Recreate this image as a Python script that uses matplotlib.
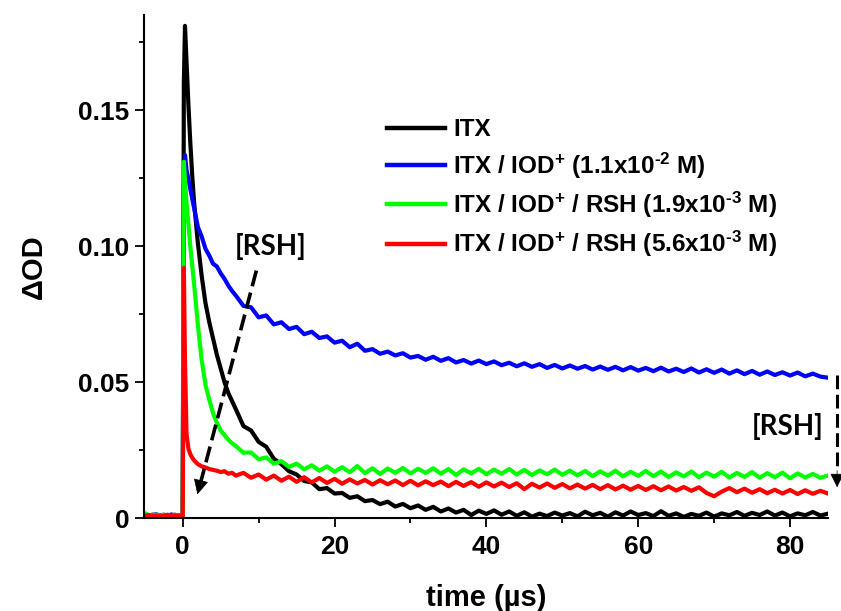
import matplotlib
matplotlib.use("Agg")
import matplotlib.pyplot as plt
from matplotlib.ticker import FixedLocator

plt.rcParams['font.family'] = ['Liberation Sans', 'DejaVu Sans']
plt.rcParams['font.weight'] = 'bold'
plt.rcParams['mathtext.fontset'] = 'custom'
plt.rcParams['mathtext.rm'] = 'Liberation Sans:bold'
plt.rcParams['mathtext.bf'] = 'Liberation Sans:bold'
plt.rcParams['mathtext.it'] = 'Liberation Sans:bold'

# ---------------- data ----------------
time_us = [-5.0, -4.5, -4.0, -3.5, -3.0, -2.5, -2.0, -1.5, -1.0, -0.5,
           0.0, 0.15, 0.3, 0.5, 0.75, 1.0, 1.25, 1.5,
           2.0, 2.5, 3.0, 3.5, 4.0, 4.5, 5.0, 5.5, 6.0, 6.5,
           7, 8, 9, 10, 11, 12, 13, 14, 15, 16, 17, 18, 19, 20,
           21, 22, 23, 24, 25, 26, 27, 28, 29, 30, 31, 32, 33, 34, 35,
           36, 37, 38, 39, 40, 41, 42, 43, 44, 45, 46, 47, 48, 49, 50,
           51, 52, 53, 54, 55, 56, 57, 58, 59, 60, 61, 62, 63, 64, 65,
           66, 67, 68, 69, 70, 71, 72, 73, 74, 75, 76, 77, 78, 79, 80,
           81, 82, 83, 84, 85]

od_itx = [0.0010, 0.0007, 0.0012, 0.0008, 0.0011, 0.0006, 0.0010, 0.0008, 0.0012, 0.0007,
          0.0009, 0.160, 0.181, 0.168, 0.152, 0.138, 0.126, 0.116,
          0.101, 0.089, 0.079, 0.072, 0.066, 0.060, 0.055, 0.050, 0.046, 0.043,
          0.0400, 0.0338, 0.0322, 0.0280, 0.0262, 0.0218, 0.0198, 0.0172, 0.0160, 0.0136,
          0.0131, 0.0106, 0.0110, 0.0090,
          0.0092, 0.0074, 0.0080, 0.0062, 0.0066, 0.0051, 0.0060, 0.0042, 0.0052, 0.0036,
          0.0046, 0.0030, 0.0041, 0.0024, 0.0035,
          0.0020, 0.0030, 0.0011, 0.0027, 0.0015, 0.0028, 0.0012, 0.0024, 0.0008, 0.0021,
          0.0005, 0.0016, 0.0007, 0.0020, 0.0009,
          0.0018, 0.0006, 0.0023, 0.0010, 0.0019, 0.0005, 0.0021, 0.0009, 0.0024, 0.0011,
          0.0018, 0.0007, 0.0025, 0.0008, 0.0017,
          0.0004, 0.0015, 0.0008, 0.0020, 0.0005, 0.0017, 0.0010, 0.0022, 0.0008, 0.0019,
          0.0011, 0.0024, 0.0009, 0.0020, 0.0006,
          0.0017, 0.0010, 0.0022, 0.0009, 0.0016]

od_iod = [0.0012, 0.0008, 0.0011, 0.0014, 0.0009, 0.0012, 0.0008, 0.0013, 0.0010, 0.0011,
          0.0010, 0.122, 0.1335, 0.128, 0.1245, 0.121, 0.1175, 0.114,
          0.107, 0.1035, 0.099, 0.0965, 0.0935, 0.0925, 0.0900, 0.0880, 0.0855, 0.0835,
          0.0818, 0.0780, 0.0775, 0.0738, 0.0745, 0.0712, 0.0720, 0.0695, 0.0703, 0.0676,
          0.0685, 0.0662, 0.0668, 0.0645,
          0.0652, 0.0628, 0.0641, 0.0615, 0.0621, 0.0604, 0.0612, 0.0598, 0.0606, 0.0590,
          0.0596, 0.0582, 0.0593, 0.0578, 0.0588,
          0.0572, 0.0581, 0.0568, 0.0579, 0.0566, 0.0576, 0.0562, 0.0571, 0.0558, 0.0569,
          0.0556, 0.0566, 0.0552, 0.0563, 0.0550,
          0.0561, 0.0549, 0.0559, 0.0546, 0.0557, 0.0545, 0.0556, 0.0543, 0.0555, 0.0542,
          0.0552, 0.0540, 0.0553, 0.0539, 0.0549,
          0.0537, 0.0550, 0.0535, 0.0547, 0.0534, 0.0546, 0.0531, 0.0543, 0.0529, 0.0541,
          0.0527, 0.0539, 0.0526, 0.0536, 0.0524,
          0.0535, 0.0521, 0.0531, 0.0520, 0.0516]

od_rsh_low = [0.0018, 0.0011, 0.0009, 0.0013, 0.0008, 0.0012, 0.0010, 0.0007, 0.0011, 0.0009,
              0.0010, 0.131, 0.124, 0.116, 0.108, 0.100, 0.093, 0.086,
              0.071, 0.058, 0.049, 0.0435, 0.0385, 0.0350, 0.0322, 0.0305, 0.0288, 0.0275,
              0.0265, 0.0240, 0.0241, 0.0216, 0.0223, 0.0200, 0.0209, 0.0188, 0.0200, 0.0179,
              0.0194, 0.0174, 0.0190, 0.0170,
              0.0187, 0.0168, 0.0191, 0.0165, 0.0183, 0.0162, 0.0182, 0.0166, 0.0184, 0.0164,
              0.0181, 0.0166, 0.0183, 0.0163, 0.0180,
              0.0158, 0.0179, 0.0164, 0.0181, 0.0161, 0.0178, 0.0163, 0.0180, 0.0160, 0.0177,
              0.0158, 0.0175, 0.0161, 0.0178, 0.0159,
              0.0174, 0.0157, 0.0173, 0.0154, 0.0172, 0.0156, 0.0174, 0.0153, 0.0170, 0.0155,
              0.0173, 0.0154, 0.0171, 0.0151, 0.0168,
              0.0153, 0.0171, 0.0150, 0.0167, 0.0152, 0.0170, 0.0149, 0.0166, 0.0151, 0.0169,
              0.0148, 0.0165, 0.0150, 0.0167, 0.0146,
              0.0164, 0.0149, 0.0162, 0.0148, 0.0156]

od_rsh_high = [0.0008, 0.0011, 0.0007, 0.0010, 0.0006, 0.0009, 0.0012, 0.0008, 0.0010, 0.0007,
               0.0009, 0.092, 0.058, 0.031, 0.0255, 0.0235, 0.0222, 0.0212,
               0.0198, 0.0190, 0.0186, 0.0180, 0.0177, 0.0174, 0.0169, 0.0172, 0.0163, 0.0166,
               0.0156, 0.0166, 0.0148, 0.0160, 0.0141, 0.0156, 0.0137, 0.0152, 0.0133, 0.0150,
               0.0131, 0.0147, 0.0129, 0.0144,
               0.0126, 0.0142, 0.0127, 0.0140, 0.0123, 0.0139, 0.0124, 0.0138, 0.0121, 0.0137,
               0.0120, 0.0135, 0.0121, 0.0134, 0.0117,
               0.0133, 0.0118, 0.0132, 0.0115, 0.0131, 0.0116, 0.0130, 0.0114, 0.0128, 0.0106,
               0.0126, 0.0112, 0.0127, 0.0111, 0.0125,
               0.0109, 0.0123, 0.0108, 0.0122, 0.0106, 0.0121, 0.0105, 0.0119, 0.0104, 0.0118,
               0.0103, 0.0117, 0.0102, 0.0116, 0.0101,
               0.0114, 0.0100, 0.0113, 0.0092, 0.0080, 0.0097, 0.0110, 0.0095, 0.0108, 0.0093,
               0.0106, 0.0091, 0.0104, 0.0090, 0.0103,
               0.0088, 0.0102, 0.0089, 0.0100, 0.0090]

series_labels = ['ITX',
                 r'ITX / IOD$^{+}$ (1.1x10$^{\text{-2}}$ M)',
                 r'ITX / IOD$^{+}$ / RSH (1.9x10$^{\text{-3}}$ M)',
                 r'ITX / IOD$^{+}$ / RSH (5.6x10$^{\text{-3}}$ M)']
series_colors = ['#000000', '#0000ff', '#00ff00', '#ff0000']

x_major = [0, 20, 40, 60, 80]
x_minor = [10, 30, 50, 70]
y_major = [0.0, 0.05, 0.10, 0.15]
y_major_labels = ['0', '0.05', '0.10', '0.15']
y_minor = [0.025, 0.075, 0.125, 0.175]

# ---------------- figure ----------------
fig = plt.figure(figsize=(8.41, 6.11), dpi=100)
ax = fig.add_axes([144/841, 1-518/611, (828-144)/841, (518-15)/611])

for vals, lab, col in zip([od_itx, od_iod, od_rsh_low, od_rsh_high], series_labels, series_colors):
    ax.plot(time_us, vals, color=col, lw=3.0, label=lab, solid_joinstyle='round')

ax.set_xlim(-5.1, 85.0)
ax.set_ylim(0.0, 0.185)

for s in ['top', 'right']:
    ax.spines[s].set_visible(False)
for s in ['left', 'bottom']:
    ax.spines[s].set_linewidth(1.5)

ax.xaxis.set_major_locator(FixedLocator(x_major))
ax.xaxis.set_minor_locator(FixedLocator(x_minor))
ax.yaxis.set_major_locator(FixedLocator(y_major))
ax.yaxis.set_minor_locator(FixedLocator(y_minor))
ax.set_yticklabels(y_major_labels)
ax.set_xticklabels([str(v) for v in x_major])
ax.tick_params(axis='both', which='major', direction='out', length=6.5, width=1.3, labelsize=19)
ax.tick_params(axis='both', which='minor', direction='out', length=3.5, width=1.3)
ax.tick_params(axis='x', which='major', pad=6)
ax.tick_params(axis='y', which='major', pad=4)
for lbl in ax.get_xticklabels() + ax.get_yticklabels():
    lbl.set_fontweight('bold')

ax.set_xlabel('time (µs)', fontsize=21, fontweight='bold', labelpad=18)
ax.set_ylabel('ΔOD', fontsize=21, fontweight='bold', labelpad=22)

leg = ax.legend(loc='upper left', bbox_to_anchor=(0.355, 0.795), frameon=False,
                fontsize=17.5, handlelength=2.4, handletextpad=0.33, labelspacing=0.38,
                borderpad=0, borderaxespad=0)
for line in leg.get_lines():
    line.set_linewidth(3.2)
for txt in leg.get_texts():
    txt.set_fontweight('bold')

# annotations: dashed arrows and [RSH] labels
arrow_dash = (0, (4.5, 1.8))
ax.plot([9.7, 2.4], [0.091, 0.0135], color='k', lw=2.6, linestyle=arrow_dash)
ax.annotate('', xy=(1.85, 0.0077), xytext=(2.6, 0.016),
            arrowprops=dict(arrowstyle='-|>', color='k', lw=0.5, mutation_scale=24))
ax.text(11.6, 0.0950, '[RSH]', fontsize=20, fontweight='bold', family=['Lato', 'DejaVu Sans'],
        ha='center', va='bottom')

ax.plot([86.2, 86.2], [0.0526, 0.0175], color='k', lw=2.2, linestyle=arrow_dash, clip_on=False)
ax.annotate('', xy=(86.2, 0.0103), xytext=(86.2, 0.0185),
            arrowprops=dict(arrowstyle='-|>', color='k', lw=0.5, mutation_scale=22),
            annotation_clip=False)
ax.text(84.4, 0.0335, '[RSH]', fontsize=20, fontweight='bold', family=['Lato', 'DejaVu Sans'],
        ha='right', va='center')

fig.savefig('out.png', dpi=100)
